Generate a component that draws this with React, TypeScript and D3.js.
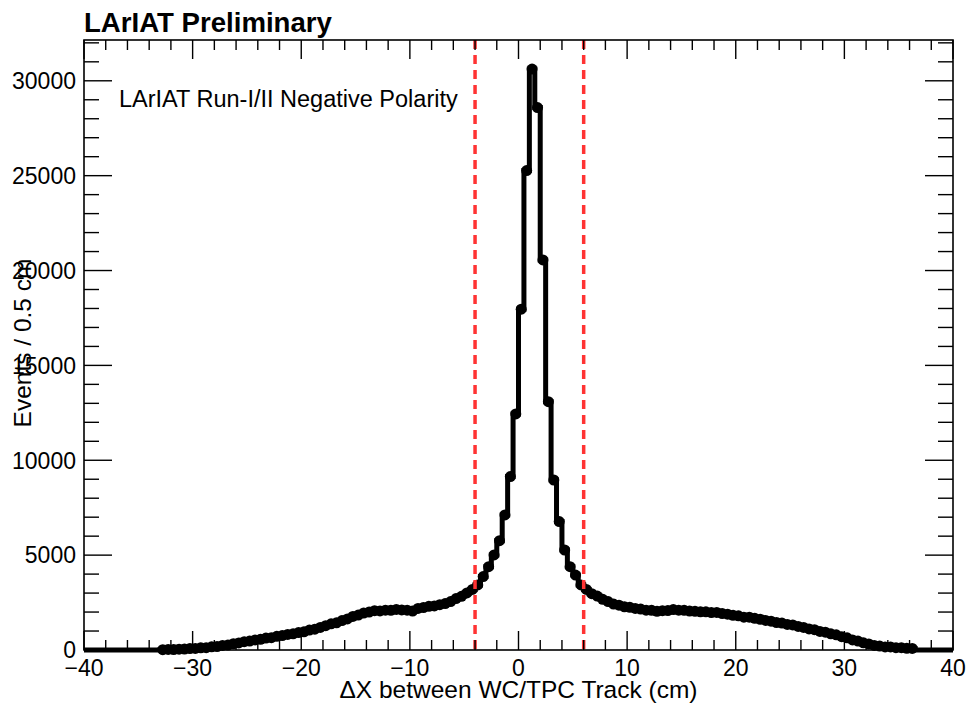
import * as d3 from "d3"

// Events per 0.5 cm bin, from -40 cm to +40 cm (160 bins)
const binLow = -40
const binWidth = 0.5
const eventsPerBin = [
  // -40 .. -33
  0, 0, 0, 0, 0, 0, 0, 0, 0, 0, 0, 0, 0, 0,
  // -33 .. -20
  15, 30, 25, 45, 50, 75, 80, 115, 125, 170, 180, 240, 260, 330,
  370, 440, 470, 530, 560, 630, 650, 720, 760, 820, 850, 920,
  // -20 .. -10
  960, 1050, 1100, 1190, 1280, 1380, 1430, 1550, 1640, 1770,
  1840, 1950, 2000, 2070, 2060, 2100, 2090, 2140, 2110, 2100,
  // -10 .. 0
  2050, 2190, 2240, 2300, 2320, 2390, 2450, 2550, 2710, 2830,
  3010, 3190, 3430, 3870, 4390, 5010, 5760, 7120, 9140, 12440,
  // 0 .. 10
  17960, 25270, 30620, 28590, 20560, 13090, 8960, 6770, 5270, 4390,
  3950, 3430, 3190, 2970, 2840, 2670, 2550, 2420, 2360, 2280,
  // 10 .. 20
  2250, 2190, 2160, 2100, 2090, 2040, 2070, 2080, 2130, 2100,
  2090, 2050, 2040, 2010, 2010, 1970, 1980, 1920, 1890, 1830,
  // 20 .. 30
  1800, 1730, 1730, 1670, 1620, 1560, 1520, 1450, 1420, 1350,
  1320, 1240, 1190, 1110, 1070, 980, 940, 850, 800, 700,
  // 30 .. 40
  640, 530, 470, 380, 320, 240, 210, 160, 160, 120,
  120, 90, 85, 0, 0, 0, 0, 0, 0, 0,
]

const xMajorTicks = [-40, -30, -20, -10, 0, 10, 20, 30, 40]
const xMinorTicks = d3.range(-40, 40.01, 2)
const yMajorTicks = [0, 5000, 10000, 15000, 20000, 25000, 30000]
const yMinorTicks = d3.range(0, 32001, 1000)
const cutLines = [-4, 6]

const W = 968
const H = 706
const frame = { left: 84, right: 953, top: 40, bottom: 650 }
const font = "'Liberation Sans', Arial, Helvetica, sans-serif"

const fmt = (v: number) => (v < 0 ? "\u2212" + Math.abs(v) : String(v))

export default function App() {
  const x = d3.scaleLinear().domain([-40, 40]).range([frame.left, frame.right])
  const y = d3.scaleLinear().domain([0, 32150]).range([frame.bottom, frame.top])

  const bins = eventsPerBin.map((v, i) => ({
    x0: binLow + i * binWidth,
    x1: binLow + (i + 1) * binWidth,
    v,
  }))

  // step outline of the histogram
  const pts: [number, number][] = []
  bins.forEach((b) => {
    pts.push([x(b.x0), y(b.v)])
    pts.push([x(b.x1), y(b.v)])
  })
  const path = d3.line()(pts) || ""

  const xMaj = 19
  const xMin = 10
  const yMaj = 28
  const yMin = 15

  return (
    <svg width={W} height={H} style={{ position: "absolute", left: 0, top: 0, background: "#fff" }}>
      <rect x={0} y={0} width={W} height={H} fill="#fff" />

      {/* histogram */}
      <path d={path} fill="none" stroke="#000" strokeWidth={5} />
      {bins
        .filter((b) => b.v > 0)
        .map((b, i) => (
          <circle key={i} cx={x((b.x0 + b.x1) / 2)} cy={y(b.v)} r={5.5} fill="#000" />
        ))}

      {/* cut lines */}
      {cutLines.map((c) => (
        <line
          key={c}
          x1={x(c)}
          x2={x(c)}
          y1={frame.top}
          y2={frame.bottom}
          stroke="#ff3333"
          strokeWidth={3.5}
          strokeDasharray="9,6"
        />
      ))}

      {/* frame */}
      <rect
        x={frame.left}
        y={frame.top}
        width={frame.right - frame.left}
        height={frame.bottom - frame.top}
        fill="none"
        stroke="#000"
        strokeWidth={1.6}
      />

      {/* ticks on all four sides */}
      <g stroke="#000" strokeWidth={1.4}>
        {xMinorTicks.map((t) => {
          const len = xMajorTicks.includes(t) ? xMaj : xMin
          return (
            <g key={t}>
              <line x1={x(t)} x2={x(t)} y1={frame.bottom} y2={frame.bottom - len} />
              <line x1={x(t)} x2={x(t)} y1={frame.top} y2={frame.top + len} />
            </g>
          )
        })}
        {yMinorTicks.map((t) => {
          const len = yMajorTicks.includes(t) ? yMaj : yMin
          return (
            <g key={t}>
              <line x1={frame.left} x2={frame.left + len} y1={y(t)} y2={y(t)} />
              <line x1={frame.right} x2={frame.right - len} y1={y(t)} y2={y(t)} />
            </g>
          )
        })}
      </g>

      {/* tick labels */}
      <g fontFamily={font} fontSize={23} fill="#000">
        {xMajorTicks.map((t) => (
          <text key={t} x={x(t)} y={676} textAnchor="middle">
            {fmt(t)}
          </text>
        ))}
        {yMajorTicks.map((t) => (
          <text key={t} x={frame.left - 8} y={y(t)} dy="0.36em" textAnchor="end">
            {t}
          </text>
        ))}
      </g>

      {/* axis titles */}
      <text
        x={(frame.left + frame.right) / 2}
        y={698}
        textAnchor="middle"
        fontFamily={font}
        fontSize={24.5}
      >
        {"\u0394X between WC/TPC Track (cm)"}
      </text>
      <text
        transform={`translate(31, ${(frame.top + frame.bottom) / 2 - 2}) rotate(-90)`}
        textAnchor="middle"
        fontFamily={font}
        fontSize={24.5}
      >
        Events / 0.5 cm
      </text>

      {/* labels */}
      <text x={84} y={32} fontFamily={font} fontSize={27.6} fontWeight="bold">
        LArIAT Preliminary
      </text>
      <text x={119} y={107} fontFamily={font} fontSize={23.5}>
        LArIAT Run-I/II Negative Polarity
      </text>
    </svg>
  )
}
